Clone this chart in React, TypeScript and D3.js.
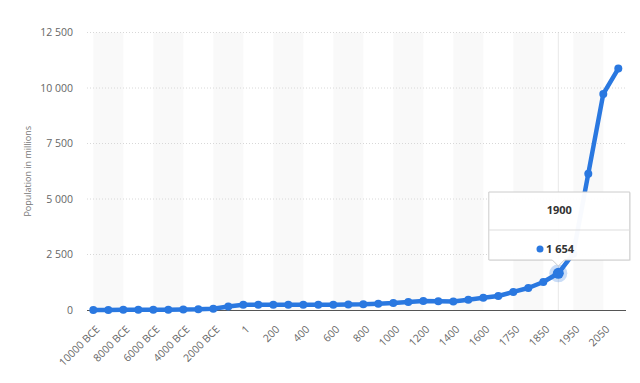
import React from "react";
import * as d3 from "d3";

const categories = [
  "10000 BCE", "9000 BCE", "8000 BCE", "7000 BCE", "6000 BCE", "5000 BCE", "4000 BCE", "3000 BCE", "2000 BCE", "1000 BCE",
  "1", "100", "200", "300", "400", "500", "600", "700", "800", "900", "1000", "1100", "1200", "1300", "1400", "1500", "1600", "1700",
  "1750", "1800", "1850", "1900", "1950", "2000", "2050", "2100",
];
const population = [
  4, 5, 7, 9, 11, 15, 20, 30, 60, 160,
  232, 237, 240, 236, 236, 241, 240, 250, 260, 285, 310, 360, 405, 395, 385, 460, 550, 630,
  814, 990, 1260, 1654, 2536, 6140, 9735, 10875,
];
const yTicks = [0, 2500, 5000, 7500, 10000, 12500];
const yTitle = "Population in millions";
const highlightCategory = "1900";

const W = 640;
const H = 383;
const FONT = "'Open Sans', 'Noto Sans', sans-serif";
const BLUE = "#2a78e0";

const fmt = d3.formatLocale({ decimal: ".", thousands: " ", grouping: [3], currency: ["", ""] }).format(",");

export default function App() {
  const x = d3.scalePoint<string>().domain(categories).range([93.3, 618.3]);
  const y = d3.scaleLinear().domain([0, 12500]).range([310, 32.5]);
  const line = d3
    .line<number>()
    .x((_, i) => x(categories[i]) as number)
    .y((d) => y(d));

  const plotLeft = 87;
  const plotRight = 626;

  const bands: [number, number][] = [];
  for (let i = 0; i + 2 < categories.length; i += 4) {
    bands.push([x(categories[i]) as number, x(categories[i + 2]) as number]);
  }

  const hi = categories.indexOf(highlightCategory);
  const hx = x(categories[hi]) as number;
  const hy = y(population[hi]);

  const tipW = 141;
  const tipH = 68;
  const tipX = hx - tipW / 2 + 1;
  const tipY = 192;

  return (
    <svg width={W} height={H} style={{ position: "absolute", left: 0, top: 0, background: "#fff" }}>
      {bands.map(([a, b], i) => (
        <rect key={i} x={a} y={y(12500)} width={b - a} height={y(0) - y(12500)} fill="#f9f9f9" />
      ))}
      {yTicks.filter((t) => t > 0).map((t) => (
        <line key={t} x1={plotLeft} x2={plotRight} y1={y(t)} y2={y(t)} stroke="#d8d8d8" strokeDasharray="1,2" />
      ))}
      {yTicks.map((t) => (
        <text key={t} x={73} y={y(t) + 3.5} textAnchor="end" fontFamily={FONT} fontSize={10.5} fill="#666">
          {fmt(t)}
        </text>
      ))}
      <text
        transform={`translate(31,${(y(0) + y(12500)) / 2}) rotate(-90)`}
        textAnchor="middle"
        fontFamily={FONT}
        fontSize={9}
        fill="#777"
      >
        {yTitle}
      </text>
      <line x1={hx} x2={hx} y1={y(12500)} y2={y(0)} stroke="#cfcfcf" strokeDasharray="1,1" />
      <line x1={plotLeft} x2={plotRight} y1={310.5} y2={310.5} stroke="#555" strokeWidth={1} />
      {categories.map((c, i) =>
        i % 2 === 0 ? (
          <text
            key={c}
            transform={`translate(${(x(c) as number) + 7},${330}) rotate(-45)`}
            textAnchor="end"
            fontFamily={FONT}
            fontSize={10.5}
            fill="#666"
          >
            {c}
          </text>
        ) : null
      )}
      <path d={line(population) || ""} fill="none" stroke={BLUE} strokeWidth={4.5} strokeLinejoin="round" />
      {population.map((v, i) => (
        <circle key={i} cx={x(categories[i]) as number} cy={y(v)} r={4} fill={BLUE} />
      ))}
      <circle cx={hx} cy={hy} r={9} fill={BLUE} opacity={0.25} />
      <circle cx={hx} cy={hy} r={5.5} fill={BLUE} />
      <g>
        <rect x={tipX + 1} y={tipY + 1} width={tipW} height={tipH} fill="#000" opacity={0.06} />
        <path
          d={`M${tipX},${tipY} h${tipW} v${tipH} H${hx + 6} l-6,6 l-6,-6 H${tipX} Z`}
          fill="#fff"
          fillOpacity={0.97}
          stroke="#cccccc"
        />
        <line x1={tipX} x2={tipX + tipW} y1={tipY + 38} y2={tipY + 38} stroke="#dddddd" />
        <text x={tipX + tipW / 2} y={tipY + 22} textAnchor="middle" fontFamily={FONT} fontSize={11} fontWeight="bold" fill="#333">
          {categories[hi]}
        </text>
        <circle cx={540} cy={tipY + 57} r={3.5} fill={BLUE} />
        <text x={546} y={tipY + 61} fontFamily={FONT} fontSize={11} fontWeight="bold" fill="#333">
          {fmt(population[hi])}
        </text>
      </g>
    </svg>
  );
}
